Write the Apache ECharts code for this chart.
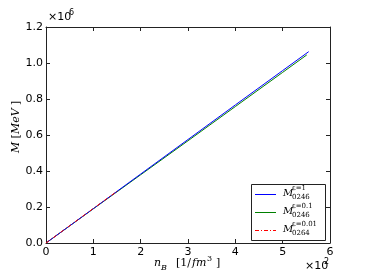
<!DOCTYPE html>
<html><head><meta charset="utf-8">
<script src="https://cdn.jsdelivr.net/npm/echarts@6/dist/echarts.min.js"></script>
<style>html,body{margin:0;padding:0;background:#fff}#c{width:367px;height:273px}</style>
</head><body><div id="c"></div>
<script>
var xTicks = [0, 100, 200, 300, 400, 500, 600];
var yTicks = [0, 200000, 400000, 600000, 800000, 1000000, 1200000];
var blueData = [[0,0],[100,191000],[200,383000],[300,575000],[400,767000],[500,958000],[555,1063000]];
var greenData = [[0,0],[100,190000],[200,379000],[300,568000],[400,758000],[500,948000],[551,1045000]];
var redData = [[0,0],[50,96000],[100,192000],[152,291000]];
var seriesNames = ['eps1','eps01','eps001'];

var chart = echarts.init(document.getElementById('c'), null, {renderer:'canvas'});
var axisCommon = {
  type:'value', splitLine:{show:false},
  axisLine:{show:true, onZero:false, lineStyle:{color:'#222', width:1}},
  axisTick:{show:true, inside:true, length:4, lineStyle:{color:'#222'}}
};
var serif = 'DejaVu Serif';
chart.setOption({
  animation:false,
  grid:{left:46, right:37, top:27, bottom:30, containLabel:false},
  xAxis:[
    Object.assign({}, axisCommon, {position:'bottom', min:0, max:600, interval:100,
      axisLabel:{margin:4, color:'#000', fontSize:11, fontFamily:'DejaVu Sans', formatter:function(v){return String(v/100);}}}),
    Object.assign({}, axisCommon, {position:'top', min:0, max:600, interval:100, axisLabel:{show:false}})
  ],
  yAxis:[
    Object.assign({}, axisCommon, {position:'left', min:0, max:1200000, interval:200000,
      axisLabel:{margin:3, color:'#000', fontSize:11, fontFamily:'DejaVu Sans', formatter:function(v){return (v/1e6).toFixed(1);}}}),
    Object.assign({}, axisCommon, {position:'right', min:0, max:1200000, interval:200000, axisLabel:{show:false}})
  ],
  series:[
    {name:seriesNames[1], type:'line', data:greenData, showSymbol:false, symbol:'none', lineStyle:{color:'#008000', width:1}, z:2},
    {name:seriesNames[0], type:'line', data:blueData, showSymbol:false, symbol:'none', lineStyle:{color:'#0000ff', width:1}, z:3},
    {name:seriesNames[2], type:'line', data:redData, showSymbol:false, symbol:'none', lineStyle:{color:'#ff0000', width:1, type:[4,2,1,2]}, z:4}
  ],
  graphic:[
    // y exponent
    {type:'text', left:48, top:12, style:{text:'×10', fontSize:11, fontFamily:'DejaVu Sans', fill:'#000'}},
    {type:'text', left:69, top:9, style:{text:'6', fontSize:8, fontFamily:'DejaVu Sans', fill:'#000'}},
    // x exponent
    {type:'text', left:305, top:261, style:{text:'×10', fontSize:11, fontFamily:'DejaVu Sans', fill:'#000'}},
    {type:'text', left:324, top:258, style:{text:'2', fontSize:8, fontFamily:'DejaVu Sans', fill:'#000'}},
    // y title
    {type:'text', x:10, y:153, rotation:Math.PI/2, style:{
      text:'{i|M} {r|[}{i|MeV} {r|]}', fill:'#000',
      rich:{i:{fontFamily:serif, fontStyle:'italic', fontSize:11}, r:{fontFamily:serif, fontSize:11}}}},
    // x title
    {type:'text', left:154, top:258, style:{text:'n', fontFamily:serif, fontStyle:'italic', fontSize:11, fill:'#000'}},
    {type:'text', left:161, top:264, style:{text:'B', fontFamily:serif, fontStyle:'italic', fontSize:8, fill:'#000'}},
    {type:'text', left:176, top:258, style:{text:'[1/', fontFamily:serif, fontSize:11, fill:'#000'}},
    {type:'text', left:192, top:258, style:{text:'fm', fontFamily:serif, fontStyle:'italic', fontSize:11, fill:'#000'}},
    {type:'text', left:207, top:255, style:{text:'3', fontFamily:serif, fontSize:8, fill:'#000'}},
    {type:'text', left:216, top:258, style:{text:']', fontFamily:serif, fontSize:11, fill:'#000'}},
    // legend box
    {type:'rect', shape:{x:251.5, y:184.5, width:74, height:56}, style:{fill:'#fff', stroke:'#222', lineWidth:1}, z:100},
    {type:'line', shape:{x1:255, y1:194.5, x2:276, y2:194.5}, style:{stroke:'#0000ff', lineWidth:1}, z:101},
    {type:'line', shape:{x1:255, y1:212.5, x2:276, y2:212.5}, style:{stroke:'#008000', lineWidth:1}, z:101},
    {type:'line', shape:{x1:255, y1:230.5, x2:276, y2:230.5}, style:{stroke:'#ff0000', lineWidth:1, lineDash:[4,2,1,2]}, z:101},
    {type:'text', left:283, top:188, z:101, style:{text:'M', fontFamily:serif, fontStyle:'italic', fontSize:10, fill:'#000'}},
    {type:'text', left:292, top:185, z:101, style:{text:'ε=1', fontFamily:serif, fontSize:7, fill:'#000'}},
    {type:'text', left:292, top:194, z:101, style:{text:'0246', fontFamily:serif, fontSize:7, fill:'#000'}},
    {type:'text', left:283, top:206, z:101, style:{text:'M', fontFamily:serif, fontStyle:'italic', fontSize:10, fill:'#000'}},
    {type:'text', left:292, top:203, z:101, style:{text:'ε=0.1', fontFamily:serif, fontSize:7, fill:'#000'}},
    {type:'text', left:292, top:212, z:101, style:{text:'0246', fontFamily:serif, fontSize:7, fill:'#000'}},
    {type:'text', left:283, top:224, z:101, style:{text:'M', fontFamily:serif, fontStyle:'italic', fontSize:10, fill:'#000'}},
    {type:'text', left:292, top:221, z:101, style:{text:'ε=0.01', fontFamily:serif, fontSize:7, fill:'#000'}},
    {type:'text', left:292, top:230, z:101, style:{text:'0264', fontFamily:serif, fontSize:7, fill:'#000'}}
  ]
});
</script></body></html>
